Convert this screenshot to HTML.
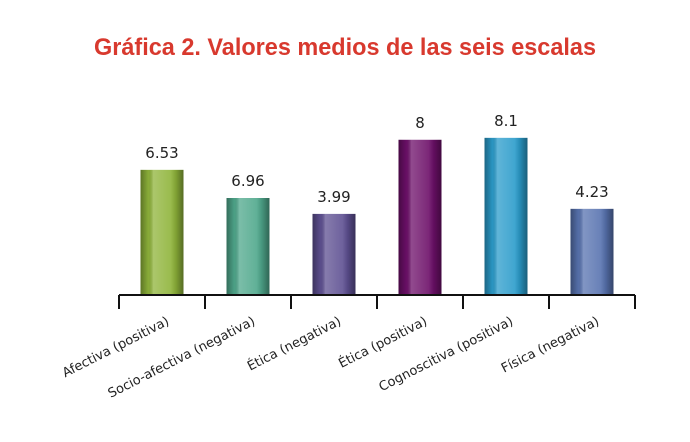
<!DOCTYPE html>
<html><head><meta charset="utf-8"><style>
body{margin:0;background:#fff;}
svg text{font-family:"Liberation Sans",sans-serif;}
</style></head><body>
<svg id="chart" width="690" height="437" viewBox="0 0 690 437">
<defs>
<linearGradient id="shine" x1="0" x2="1" y1="0" y2="0">
<stop offset="0" stop-color="#000" stop-opacity="0.35"/>
<stop offset="0.18" stop-color="#000" stop-opacity="0.05"/>
<stop offset="0.3" stop-color="#fff" stop-opacity="0.25"/>
<stop offset="0.7" stop-color="#fff" stop-opacity="0.1"/>
<stop offset="0.82" stop-color="#000" stop-opacity="0.1"/>
<stop offset="1" stop-color="#000" stop-opacity="0.4"/>
</linearGradient>
</defs>
<text x="345" y="55" text-anchor="middle" font-size="24" font-weight="bold" fill="#d8392e" textLength="502" lengthAdjust="spacingAndGlyphs">Gráfica 2. Valores medios de las seis escalas</text>
<g id="bars"></g>
<g id="axis"></g>
</svg>
<script>
const categories=["Afectiva (positiva)","Socio-afectiva (negativa)","Ética (negativa)","Ética (positiva)","Cognoscitiva (positiva)","Física (negativa)"];
const valueLabels=["6.53","6.96","3.99","8","8.1","4.23"];
const plottedValues=[6.45,5.0,4.18,8.0,8.1,4.44];
const colors=["#8fb43a","#4fa88c","#5e5092","#6d0f69","#2b9ccb","#5873b0"];
const ns="http://www.w3.org/2000/svg";
const x0=119,step=86,baseY=295,pxPerUnit=19.4,barW=43;
function xScale(i){return x0+step*i+step/2;}
function yScale(v){return baseY-v*pxPerUnit;}
const bars=document.getElementById("bars"),axis=document.getElementById("axis");
function mk(t,a,p){const e=document.createElementNS(ns,t);for(const k in a)e.setAttribute(k,a[k]);p.appendChild(e);return e;}
categories.forEach((c,i)=>{
 const cx=xScale(i),top=yScale(plottedValues[i]);
 const r=mk("rect",{x:cx-barW/2,y:top,width:barW,height:baseY-top,fill:colors[i]},bars);
 
 
 const s=mk("rect",{x:cx-barW/2,y:top,width:barW,height:baseY-top,fill:"url(#shine)"},bars);
 
 
 const v=mk("text",{x:cx,y:top-12,"text-anchor":"middle","font-size":"15",fill:"#222",style:'font-family:"DejaVu Sans",sans-serif'},bars);
 v.textContent=valueLabels[i];
 
 
 const l=mk("text",{x:0,y:0,"text-anchor":"end","font-size":"13",fill:"#222",style:'font-family:"DejaVu Sans",sans-serif',transform:"translate("+(cx+8)+",324) rotate(-27)"},axis);
 l.textContent=c;
 
 
});
const ax=mk("line",{x1:x0,x2:x0+step*6,y1:baseY,y2:baseY,stroke:"#111","stroke-width":"2"},axis);


for(let i=0;i<=6;i++){
 const t=mk("line",{x1:x0+step*i,x2:x0+step*i,y1:baseY,y2:baseY+14,stroke:"#111","stroke-width":"2"},axis);
 
 
}
</script>
</body></html>
